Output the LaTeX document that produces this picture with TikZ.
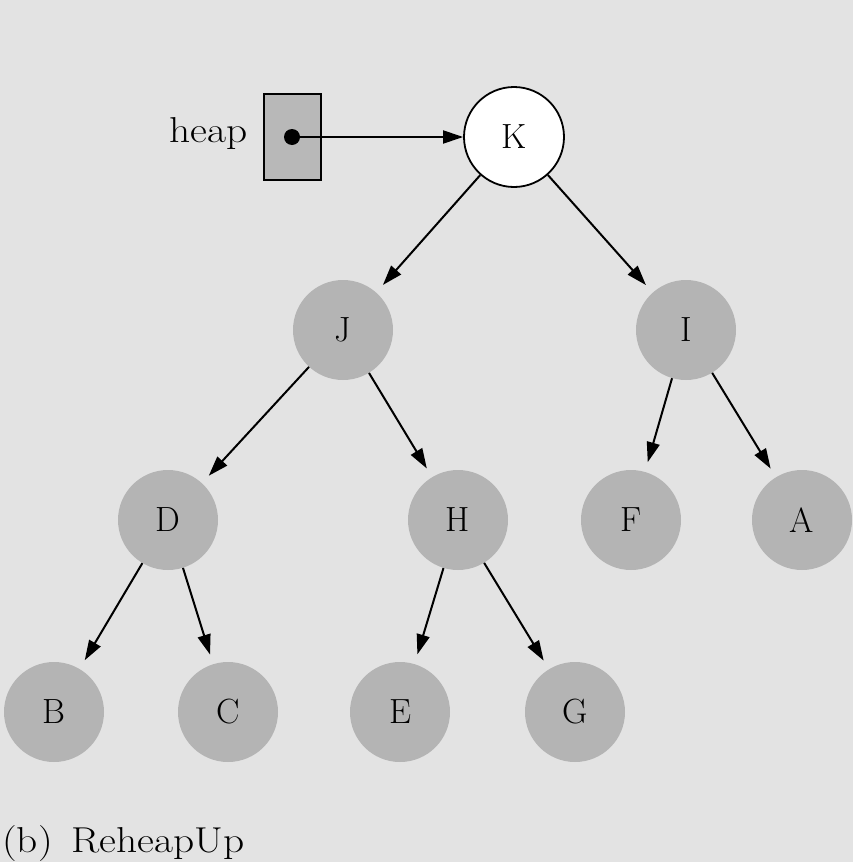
\documentclass[tikz,border=0pt]{standalone}
\usetikzlibrary{arrows.meta}
\definecolor{bgc}{RGB}{227,227,227}
\definecolor{nodec}{RGB}{180,180,180}
\definecolor{boxc}{RGB}{184,184,184}
\begin{document}
\begin{tikzpicture}[x=1pt,y=-1pt,
  lbl/.style={font=\fontsize{35}{40}\selectfont},
  biglbl/.style={font=\fontsize{36}{42}\selectfont},
  hnode/.style={circle, minimum size=100pt, inner sep=0pt, fill=nodec, lbl},
  rootnode/.style={circle, minimum size=100pt, inner sep=0pt, fill=white, draw=black, line width=1.8pt, lbl},
  arr/.style={-{Triangle[length=20pt,width=13pt]}, line width=2pt, shorten >=10pt},
  ptrbox/.style={rectangle, minimum width=57pt, minimum height=86pt, inner sep=0pt, fill=boxc, draw=black, line width=2pt}
]
\fill[bgc] (0,0) rectangle (853,862);
\useasboundingbox (0,0) rectangle (853,862);

\node[ptrbox] (box) at (292,137) {};
\node[biglbl, anchor=east, inner sep=0pt] (heap) at (248,134) {\scalebox{1.15}[1]{heap}};
\coordinate (dot) at (292,137);
\fill (dot) circle (8pt);

\node[rootnode] (K) at (514,137) {K};
\node[hnode] (J) at (343,330) {J};
\node[hnode] (I) at (686,330) {I};
\node[hnode] (D) at (168,520) {D};
\node[hnode] (H) at (458,520) {H};
\node[hnode] (F) at (631,520) {F};
\node[hnode] (A) at (802,520) {A};
\node[hnode] (B) at (54,712) {B};
\node[hnode] (C) at (228,712) {C};
\node[hnode] (E) at (400,712) {E};
\node[hnode] (G) at (575,712) {G};

\draw[arr, shorten >=0pt] (dot) -- (K);
\draw[arr] (K) -- (J);
\draw[arr] (K) -- (I);
\draw[arr] (J) -- (D);
\draw[arr] (J) -- (H);
\draw[arr] (I) -- (F);
\draw[arr] (I) -- (A);
\draw[arr] (D) -- (B);
\draw[arr] (D) -- (C);
\draw[arr] (H) -- (E);
\draw[arr] (H) -- (G);

\node[biglbl, anchor=base west, inner sep=0pt] (cap) at (2,852) {\scalebox{1.15}[1]{(b)\hspace{0.45em}ReheapUp}};
\end{tikzpicture}
\end{document}
